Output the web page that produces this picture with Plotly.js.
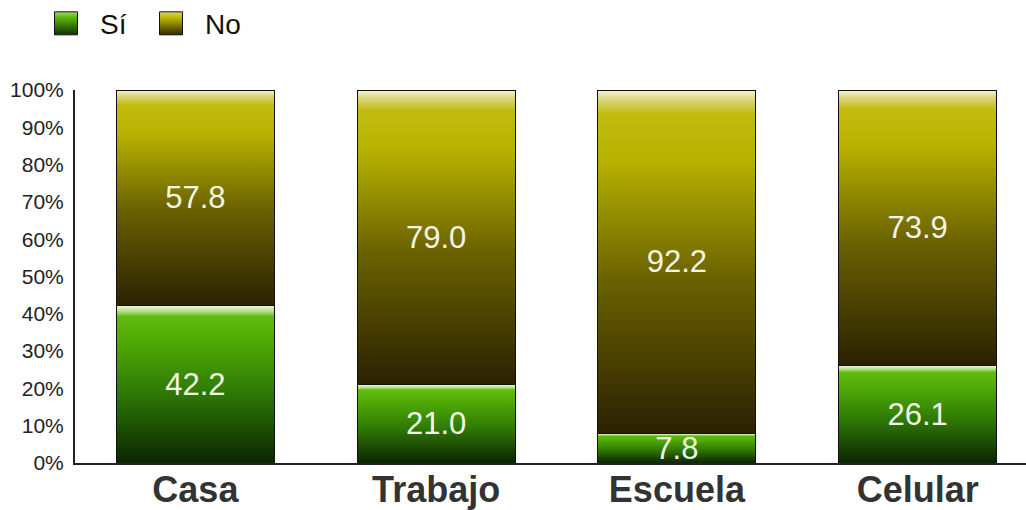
<!DOCTYPE html>
<html>
<head>
<meta charset="utf-8">
<script src="https://cdn.plot.ly/plotly-3.0.1.min.js"></script>
<style>html,body{margin:0;padding:0;background:#fff}#chart{width:1026px;height:510px}</style>
</head>
<body>
<div id="chart"></div>
<script>
const categories = ["Casa", "Trabajo", "Escuela", "Celular"];
const siValues = [42.2, 21.0, 7.8, 26.1];
const noValues = [57.8, 79.0, 92.2, 73.9];
const seriesNames = ["Sí", "No"];
const yTickValues = [0, 10, 20, 30, 40, 50, 60, 70, 80, 90, 100];

const fmt = v => v.toFixed(1);

const common = {
  type: 'bar',
  x: categories,
  textposition: 'inside',
  insidetextanchor: 'middle',
  constraintext: 'none',
  textangle: 0,
  textfont: {family: 'Liberation Sans, Arial, sans-serif', size: 31, color: '#f4f4e4'},
  hoverinfo: 'skip'
};

const traces = [
  Object.assign({}, common, {
    name: seriesNames[0], y: siValues, text: siValues.map(fmt),
    marker: {color: '#4a9a08', line: {color: '#111', width: 1}}
  }),
  Object.assign({}, common, {
    name: seriesNames[1], y: noValues, text: noValues.map(fmt),
    marker: {color: '#9a9400', line: {color: '#111', width: 1}}
  })
];

const layout = {
  width: 1026, height: 510,
  margin: {l: 75, r: 0, t: 90, b: 47, autoexpand: false},
  barmode: 'stack',
  bargap: 0.344,
  paper_bgcolor: '#fff', plot_bgcolor: '#fff',
  font: {family: 'Liberation Sans, Arial, sans-serif', color: '#222'},
  showlegend: true,
  legend: {
    orientation: 'h', x: -0.0452, xanchor: 'left', y: 1.245, yanchor: 'top',
    font: {size: 28, color: '#111'}, itemwidth: 58, traceorder: 'normal',
    entrywidth: 32, entrywidthmode: 'pixels',
    bgcolor: 'rgba(0,0,0,0)'
  },
  xaxis: {
    range: [-0.5, 3.45],
    showline: true, linecolor: '#222', linewidth: 2,
    ticks: '', showgrid: false, zeroline: false,
    tickfont: {size: 36, color: '#333', family: 'Liberation Sans, Arial, sans-serif', weight: 'bold'}
  },
  yaxis: {
    range: [0, 100],
    tickvals: yTickValues, ticktext: yTickValues.map(v => v + '%'),
    showline: true, linecolor: '#222', linewidth: 2,
    ticks: '', showgrid: false, zeroline: false,
    tickfont: {size: 21, color: '#222'}, ticklabelstandoff: 5
  }
};

function addGradients(gd) {
  const svg = gd.querySelector('svg.main-svg');
  const ns = 'http://www.w3.org/2000/svg';
  let defs = svg.querySelector('defs');
  if (!defs) { defs = document.createElementNS(ns, 'defs'); svg.insertBefore(defs, svg.firstChild); }
  const grads = {
    gSi: [[0, '#f0f8e0'], [0.035, '#b6e08a'], [0.07, '#62bb10'], [0.2, '#52ad06'], [0.55, '#2f7a05'], [1, '#0b2402']],
    gNo: [[0, '#f6f4d6'], [0.03, '#d9d47a'], [0.07, '#c2bc10'], [0.2, '#b8b300'], [0.55, '#6a6200'], [1, '#2a2102']],
    gSiL: [[0, '#a0d870'], [0.25, '#5cb80a'], [1, '#103002']],
    gNoL: [[0, '#d8d470'], [0.25, '#c0ba00'], [1, '#302800']]
  };
  Object.keys(grads).forEach(id => {
    const lg = document.createElementNS(ns, 'linearGradient');
    lg.setAttribute('id', id);
    lg.setAttribute('x1', '0'); lg.setAttribute('y1', '0');
    lg.setAttribute('x2', '0'); lg.setAttribute('y2', '1');
    grads[id].forEach(([o, c]) => {
      const s = document.createElementNS(ns, 'stop');
      s.setAttribute('offset', o); s.setAttribute('stop-color', c);
      lg.appendChild(s);
    });
    defs.appendChild(lg);
  });
  const traceGroups = gd.querySelectorAll('.barlayer .trace');
  traceGroups.forEach((tg, i) => {
    tg.querySelectorAll('path').forEach(p => { p.style.fill = i === 0 ? 'url(#gSi)' : 'url(#gNo)'; });
  });
  const legItems = gd.querySelectorAll('.legend .traces');
  legItems.forEach((li, i) => {
    li.querySelectorAll('.legendpoints path').forEach(p => {
      p.style.fill = i === 0 ? 'url(#gSiL)' : 'url(#gNoL)';
      p.style.stroke = '#111';
      p.style.strokeWidth = '1px';
      p.setAttribute('d', 'M-11.5,-11.5H11.5V11.5H-11.5Z');
    });
  });
  gd.querySelectorAll('.xtick text').forEach(tx => {
    const y = parseFloat(tx.getAttribute('y') || '0');
    tx.setAttribute('y', y - 6);
  });
}

Plotly.newPlot('chart', traces, layout, {staticPlot: true, displayModeBar: false}).then(addGradients);
</script>
</body>
</html>
